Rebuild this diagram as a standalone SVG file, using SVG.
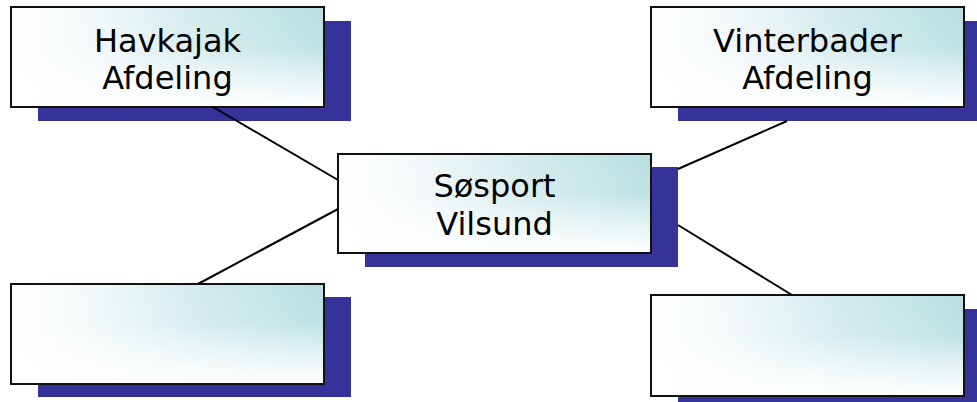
<svg xmlns="http://www.w3.org/2000/svg" width="977" height="402" viewBox="0 0 977 402">
<defs>
<linearGradient id="gh" x1="0" y1="0" x2="1" y2="0">
<stop offset="0" stop-color="#ffffff"/>
<stop offset="0.25" stop-color="#f3f9fa"/>
<stop offset="0.6" stop-color="#d4ebed"/>
<stop offset="1" stop-color="#b8dfe1"/>
</linearGradient>
<linearGradient id="gv" x1="0" y1="0" x2="0" y2="1">
<stop offset="0" stop-color="#ffffff" stop-opacity="0"/>
<stop offset="0.4" stop-color="#ffffff" stop-opacity="0.1"/>
<stop offset="0.7" stop-color="#ffffff" stop-opacity="0.6"/>
<stop offset="1" stop-color="#ffffff" stop-opacity="1"/>
</linearGradient>
</defs>
<style>
.sh{fill:#353399}
.bg{fill:url(#gh)}
.ov{fill:url(#gv)}
.bd{fill:none;stroke:#111;stroke-width:2}
.t{font-family:"DejaVu Sans",Verdana,sans-serif;font-size:32px;fill:#000;text-anchor:middle}
.c{stroke:#000;stroke-width:2;fill:none}
</style>
<g id="havkajak">
<rect class="sh" x="38" y="21" width="313" height="100"/>
<rect class="bg" x="11" y="7" width="313" height="100"/>
<rect class="ov" x="11" y="7" width="313" height="100"/>
<rect class="bd" x="11" y="7" width="313" height="100"/>
<text class="t" x="167.5" y="52">Havkajak</text>
<text class="t" x="167.5" y="89">Afdeling</text>
</g>
<g id="vinterbader">
<rect class="sh" x="678" y="21" width="299" height="100"/>
<rect class="bg" x="651" y="7" width="313" height="100"/>
<rect class="ov" x="651" y="7" width="313" height="100"/>
<rect class="bd" x="651" y="7" width="313" height="100"/>
<text class="t" x="807.5" y="52">Vinterbader</text>
<text class="t" x="807.5" y="89">Afdeling</text>
</g>
<g id="sosport">
<rect class="sh" x="365" y="167" width="313" height="100"/>
<rect class="bg" x="338" y="154" width="313" height="99"/>
<rect class="ov" x="338" y="154" width="313" height="99"/>
<rect class="bd" x="338" y="154" width="313" height="99"/>
<text class="t" x="494.5" y="197">Søsport</text>
<text class="t" x="494.5" y="235">Vilsund</text>
</g>
<g id="bottom-left">
<rect class="sh" x="38" y="297" width="313" height="100"/>
<rect class="bg" x="11" y="284" width="313" height="100"/>
<rect class="ov" x="11" y="284" width="313" height="100"/>
<rect class="bd" x="11" y="284" width="313" height="100"/>
</g>
<g id="bottom-right">
<rect class="sh" x="678" y="309" width="299" height="93"/>
<rect class="bg" x="651" y="295" width="313" height="101"/>
<rect class="ov" x="651" y="295" width="313" height="101"/>
<rect class="bd" x="651" y="295" width="313" height="101"/>
</g>
<g id="connectors">
<line class="c" x1="213" y1="107" x2="338" y2="180"/>
<line class="c" x1="338" y1="209" x2="198" y2="284"/>
<line class="c" x1="678" y1="169" x2="787" y2="121"/>
<line class="c" x1="678" y1="225" x2="792" y2="295"/>
</g>
</svg>
